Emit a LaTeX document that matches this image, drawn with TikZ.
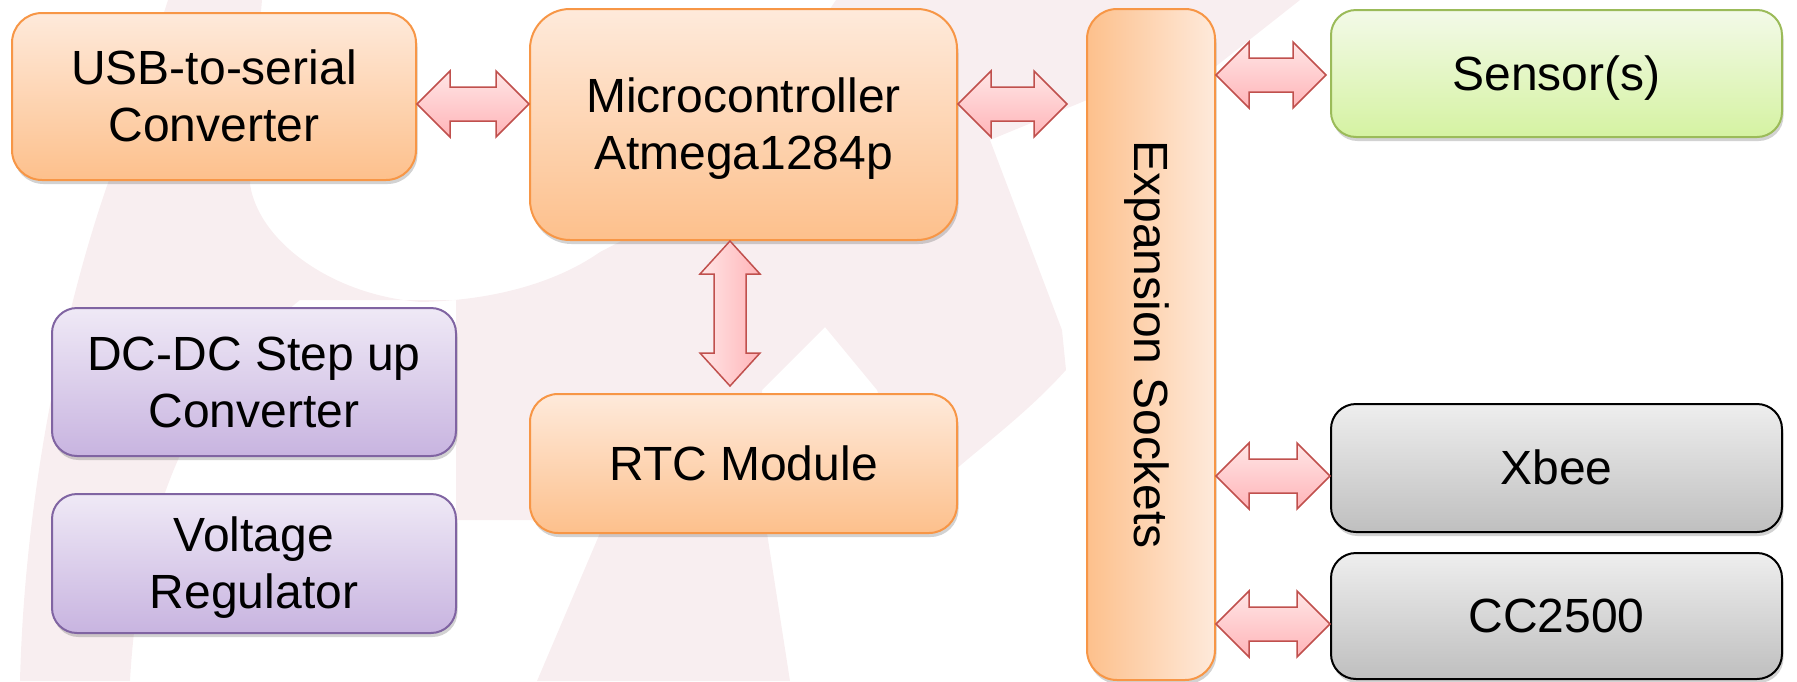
\documentclass[tikz,border=0pt]{standalone}
\usepackage{fontspec}
\setmainfont{Liberation Sans}
\usetikzlibrary{calc,shadows}
\definecolor{wm}{HTML}{F8EEF0}
\definecolor{orbd}{HTML}{F79646}
\definecolor{ortop}{HTML}{FEEADB}
\definecolor{orbot}{HTML}{FDC08C}
\definecolor{grbd}{HTML}{9BBB59}
\definecolor{grtop}{HTML}{F3FAE8}
\definecolor{grbot}{HTML}{D5F2A2}
\definecolor{pubd}{HTML}{8064A2}
\definecolor{putop}{HTML}{EFE9F6}
\definecolor{pubot}{HTML}{C8B4E0}
\definecolor{gytop}{HTML}{EEEEEE}
\definecolor{gybot}{HTML}{BFBFBF}
\definecolor{pkbd}{HTML}{C0504D}
\definecolor{pklight}{HTML}{FFE6E6}
\definecolor{pkdark}{HTML}{FFB4B8}
\newcommand\st{\rule[-10pt]{0pt}{53.5pt}}
\tikzset{
  blk/.style={rectangle, inner sep=0pt, align=center, line width=2pt,
    font=\fontsize{48}{57}\selectfont,
    drop shadow={shadow xshift=1.5pt, shadow yshift=-4pt, opacity=0.25, fill=black!70}},
  orangebox/.style={blk, draw=orbd, top color=ortop, bottom color=orbot},
  greenbox/.style={blk, draw=grbd, top color=grtop, bottom color=grbot},
  purplebox/.style={blk, draw=pubd, top color=putop, bottom color=pubot},
  graybox/.style={blk, draw=black, top color=gytop, bottom color=gybot},
  expbox/.style={blk, draw=orbd, left color=orbot, right color=ortop},
  dblarrow/.style={draw=pkbd, line width=1.5pt, line join=miter},
  harrowfill/.style={top color=pklight, bottom color=pkdark},
  varrowfill/.style={left color=pklight, right color=pkdark},
}
\newcommand\harr[2]{%
  \path[dblarrow, harrowfill] let \p1=#1, \p2=#2 in
    (\x1,\y1) -- (\x1+33pt,\y1+33pt) -- (\x1+33pt,\y1+17pt) -- (\x2-33pt,\y1+17pt)
    -- (\x2-33pt,\y1+33pt) -- (\x2,\y1) -- (\x2-33pt,\y1-33pt) -- (\x2-33pt,\y1-17pt)
    -- (\x1+33pt,\y1-17pt) -- (\x1+33pt,\y1-33pt) -- cycle;}
\newcommand\varr[2]{%
  \path[dblarrow, varrowfill] let \p1=#1, \p2=#2 in
    (\x1,\y1) -- (\x1+30pt,\y1-33pt) -- (\x1+16pt,\y1-33pt) -- (\x1+16pt,\y2+33pt)
    -- (\x1+30pt,\y2+33pt) -- (\x1,\y2) -- (\x1-30pt,\y2+33pt) -- (\x1-16pt,\y2+33pt)
    -- (\x1-16pt,\y1-33pt) -- (\x1-30pt,\y1-33pt) -- cycle;}
\begin{document}
\begin{tikzpicture}[x=1pt, y=-1pt]
\useasboundingbox (0,0) rectangle (1797,681);
% faint watermark
\fill[wm] (168,0) -- (262,0) .. controls (255,80) and (250,150) .. (250,184)
  .. controls (258,240) and (330,295) .. (421,302)
  .. controls (500,300) and (560,280) .. (600,252)
  -- (700,200) -- (836,0) -- (1300,0) -- (1215,67) -- (1087,100) -- (990,140)
  -- (1062,330) -- (1066,370) .. controls (1030,410) and (990,440) .. (955,470)
  -- (920,520) -- (877,390) -- (825,327) -- (762,390) -- (767,533) -- (790,681)
  -- (537,681) -- (600,533) -- (530,520) -- (456,520) -- (456,300) -- (300,300)
  .. controls (200,380) and (140,500) .. (130,681) -- (20,681)
  .. controls (25,480) and (70,280) .. (120,150) -- cycle;
% blocks
\node[orangebox, rounded corners=30pt, minimum width=404, minimum height=167] (usb) at (214,96.5) {\st USB-to-serial\\\st Converter};
\node[orangebox, rounded corners=40pt, minimum width=427, minimum height=231] (mc) at (743.5,124.5) {\st Microcontroller\\\st Atmega1284p};
\node[orangebox, rounded corners=28pt, minimum width=427, minimum height=139] (rtc) at (743.5,463.5) {\st RTC Module};
\node[expbox, rounded corners=30pt, minimum width=128, minimum height=671] (exp) at (1151,344.5) {};
\node[rotate=-90, inner sep=0pt, font=\fontsize{48}{57}\selectfont] (exptext) at (exp.center) {\st Expansion Sockets};
\node[greenbox, rounded corners=25pt, minimum width=451, minimum height=127] (sensor) at (1556.5,73.5) {\st Sensor(s)};
\node[purplebox, rounded corners=25pt, minimum width=404, minimum height=148] (dcdc) at (254,382) {\st DC-DC Step up\\\st Converter};
\node[purplebox, rounded corners=25pt, minimum width=404, minimum height=139] (vreg) at (254,563.5) {\st Voltage\\\st Regulator};
\node[graybox, rounded corners=25pt, minimum width=451, minimum height=128] (xbee) at (1556.5,468) {\st Xbee};
\node[graybox, rounded corners=25pt, minimum width=451, minimum height=126] (cc) at (1556.5,616) {\st CC2500};
% connector anchor points
\coordinate (a1s) at (usb.east |- 0,104);
\coordinate (a1e) at (mc.west |- 0,104);
\coordinate (a2s) at (mc.east |- 0,104);
\coordinate (a2e) at ($(exp.west |- 0,104)+(-19,0)$);
\coordinate (a3s) at (exp.east |- 0,75);
\coordinate (a3e) at ($(sensor.west |- 0,75)+(-4,0)$);
\coordinate (a4s) at (exp.east |- 0,476);
\coordinate (a4e) at (xbee.west |- 0,476);
\coordinate (a5s) at (exp.east |- 0,624);
\coordinate (a5e) at (cc.west |- 0,624);
\coordinate (vs) at (730,0 |- mc.south);
\coordinate (ve) at ($(730,0 |- rtc.north)+(0,-7)$);
\harr{(a1s)}{(a1e)}
\harr{(a2s)}{(a2e)}
\harr{(a3s)}{(a3e)}
\harr{(a4s)}{(a4e)}
\harr{(a5s)}{(a5e)}
\varr{(vs)}{(ve)}
\end{tikzpicture}
\end{document}
